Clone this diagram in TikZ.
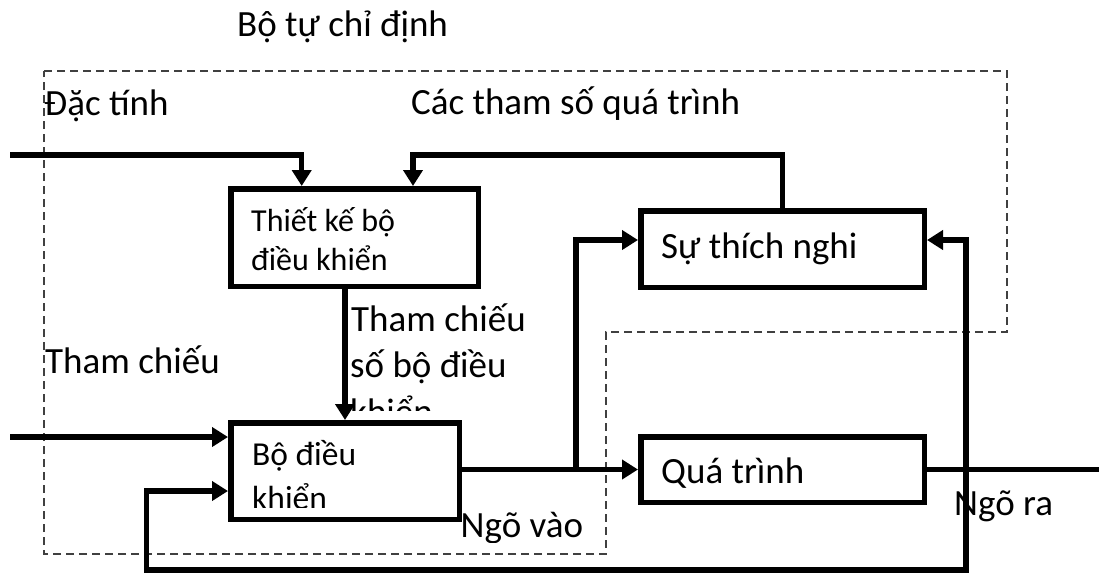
\documentclass[tikz,border=0pt]{standalone}
\usepackage{fontspec}
\setmainfont{Carlito}
\usetikzlibrary{arrows.meta}
\begin{document}
\begin{tikzpicture}[x=1pt,y=-1pt,
  blk/.style={draw, line width=5.5pt, inner sep=0pt},
  conn/.style={line width=5.5pt, -{Triangle[length=16pt,width=19pt]}},
  wire/.style={line width=5.5pt},
  lbl/.style={anchor=base west, inner sep=0pt, font=\fontsize{37}{45}\selectfont},
  boxtxt/.style={anchor=base west, inner sep=0pt, font=\fontsize{32}{39}\selectfont},
  boxtxtb/.style={anchor=base west, inner sep=0pt, font=\fontsize{33.5}{41}\selectfont},
  frame/.style={draw=black!75, line width=1.2pt, dash pattern=on 8pt off 5pt}]
\useasboundingbox (0,0) rectangle (1099,574);

% self-tuning region
\draw[frame] (44,71) -- (1007,71) -- (1007,332) -- (606,332) -- (606,554) -- (44,554) -- cycle;

% blocks
\node[blk, minimum width=247.5pt, minimum height=97.5pt] (design) at (354.5,237.5) {};
\node[blk, minimum width=228.5pt, minimum height=96.5pt] (ctrl) at (345,471) {};
\node[blk, minimum width=283.5pt, minimum height=76.5pt] (adapt) at (782.5,249) {};
\node[blk, minimum width=283.5pt, minimum height=65.5pt] (proc) at (782.5,469.5) {};

% connection points
\coordinate (specIn) at (10,155);
\coordinate (refIn) at (10,437);
\coordinate (outEnd) at (1099,469.5);
\coordinate (split) at (576,469.5);
\coordinate (tap) at (966,469.5);
\coordinate (fbBot) at (966,570);
\coordinate (designIn1) at ([xshift=73.7pt]design.north west);
\coordinate (designIn2) at ([xshift=185pt]design.north west);
\coordinate (adaptInL) at ([yshift=9pt]adapt.west);
\coordinate (adaptInR) at ([yshift=9pt]adapt.east);
\coordinate (ctrlIn2) at ([yshift=-20pt]ctrl.west);
\coordinate (fbTurn) at ([xshift=-81.3pt]ctrlIn2);

% signal lines
\draw[conn] (specIn) -| (designIn1);
\draw[conn] (adapt.north) |- (designIn2 |- specIn) -- (designIn2);
\draw[conn] (ctrl.north |- design.south) -- (ctrl.north);
\draw[conn] (refIn) -- (refIn -| ctrl.west);
\draw[conn] (ctrl.east |- proc.west) -- (proc.west);
\draw[conn] (split) |- (adaptInL);
\draw[wire] (proc.east) -- (outEnd);
\draw[conn] (tap) |- (adaptInR);
\draw[conn] (tap) -- (fbBot) -| (fbTurn) -- (ctrlIn2);

% labels
\node[lbl] (title) at (237,36.7) {Bộ tự chỉ định};
\node[lbl] (specL) at (44,115) {Đặc tính};
\node[lbl] (paramL) at (411,114) {Các tham số quá trình};
\node[lbl] (refL) at (45,373) {Tham chiếu};
\node[lbl] (crefA) at (351,331.7) {Tham chiếu};
\node[lbl] (crefB) at (350,377) {số bộ điều};
\begin{scope}
  \clip (340,385) rectangle (500,410);
  \node[lbl] (crefC) at (350,424) {khiển};
\end{scope}
\node[boxtxt] (designA) at (251,231.7) {Thiết kế bộ};
\node[boxtxt] (designB) at (251,270.7) {điều khiển};
\node[boxtxtb] (ctrlA) at (252,465.7) {Bộ điều};
\begin{scope}
  \clip (240,475) rectangle (440,507.5);
  \node[boxtxtb] (ctrlB) at (252,509) {khiển};
\end{scope}
\node[lbl] (adaptT) at (661,258.3) {Sự thích nghi};
\node[lbl] (procT) at (661,483.3) {Quá trình};
\begin{scope}
  \clip (455,500) rectangle (600,542);
  \node[lbl] (inL) at (460.5,537) {Ngõ vào};
\end{scope}
\node[lbl] (outL) at (954,515) {Ngõ ra};
\end{tikzpicture}
\end{document}
